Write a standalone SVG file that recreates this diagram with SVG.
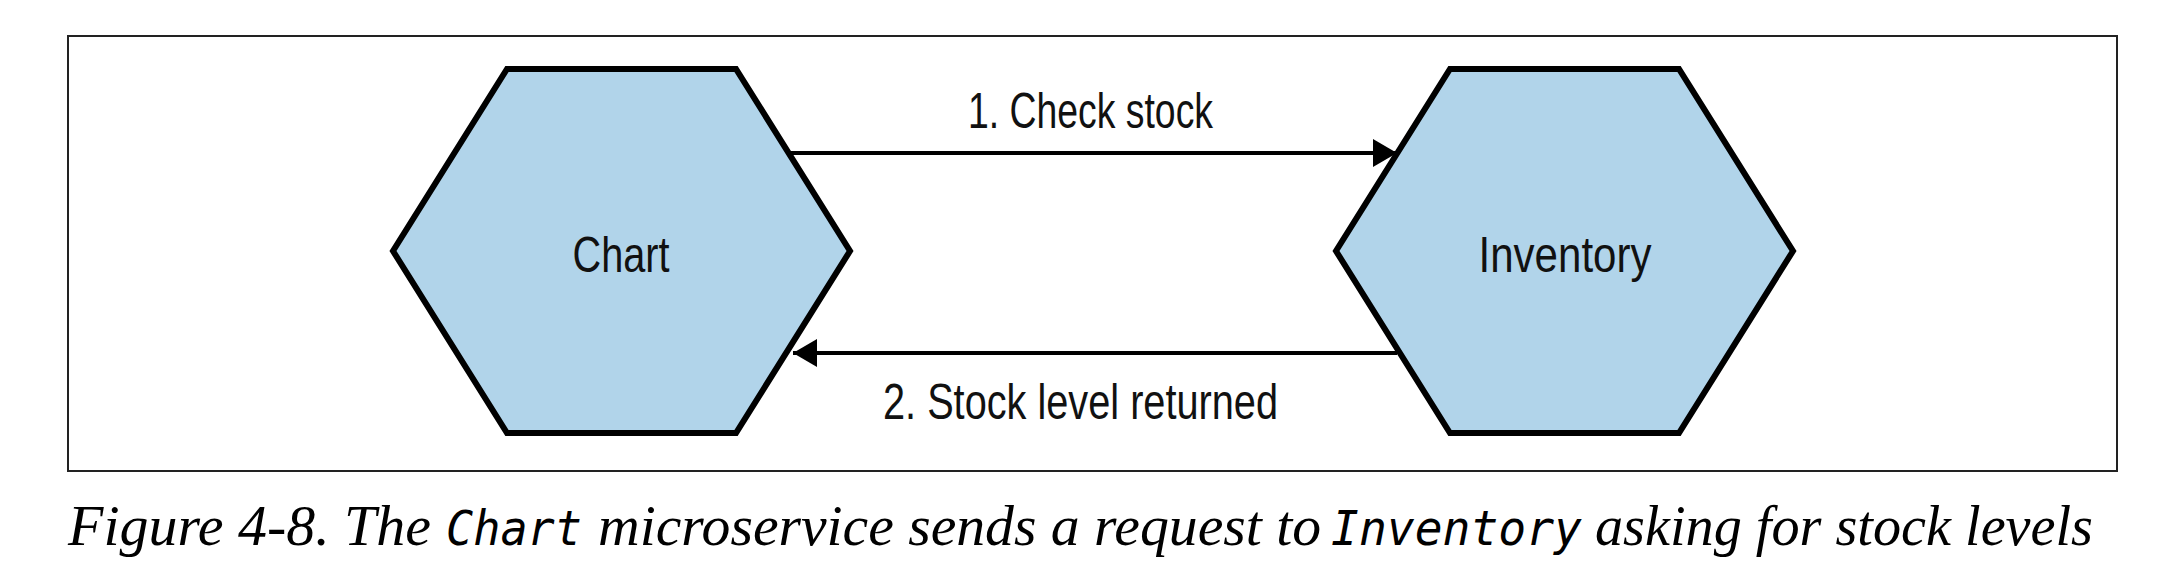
<svg xmlns="http://www.w3.org/2000/svg" width="2180" height="588" viewBox="0 0 2180 588">
  <style>
    .hex { fill: #b1d4ea; stroke: #000; stroke-width: 6; stroke-linejoin: miter; }
    .lbl { font-family: "Liberation Sans", Arial, sans-serif; font-size: 50px; fill: #111; }
    .conn { stroke: #000; stroke-width: 4; fill: none; }
    .cap { font-family: "Liberation Serif", "Times New Roman", serif; font-style: italic; font-size: 56px; fill: #000; }
    .mono { font-family: "DejaVu Sans Mono", "Liberation Mono", monospace; font-style: italic; font-size: 48px; fill: #000; }
  </style>
  <defs>
    <marker id="arrow" markerUnits="userSpaceOnUse" markerWidth="26" markerHeight="30" refX="24" refY="14" orient="auto">
      <path d="M0,0 L24,14 L0,28 z" fill="#000"/>
    </marker>
  </defs>
  <rect x="0" y="0" width="2180" height="588" fill="#fff"/>
  <rect id="frame" x="68" y="36" width="2049" height="435" fill="none" stroke="#222" stroke-width="2"/>

  <g id="chart">
    <polygon class="hex" points="507,69 736,69 850,251 736,433 507,433 393,251"/>
    <text class="lbl" x="621" y="272" text-anchor="middle" textLength="97" lengthAdjust="spacingAndGlyphs">Chart</text>
  </g>

  <g id="inventory">
    <polygon class="hex" points="1450,69 1679,69 1793,251 1679,433 1450,433 1336,251"/>
    <text class="lbl" x="1565" y="272" text-anchor="middle" textLength="173" lengthAdjust="spacingAndGlyphs">Inventory</text>
  </g>

  <g id="connectors">
    <line class="conn" x1="789" y1="153" x2="1397" y2="153" marker-end="url(#arrow)"/>
    <text class="lbl" x="968" y="128" textLength="245" lengthAdjust="spacingAndGlyphs">1. Check stock</text>
    <line class="conn" x1="1397" y1="353" x2="793" y2="353" marker-end="url(#arrow)"/>
    <text class="lbl" x="883" y="419" textLength="395" lengthAdjust="spacingAndGlyphs">2. Stock level returned</text>
  </g>

  <g id="caption">
    <text class="cap" x="68" y="545" textLength="363" lengthAdjust="spacingAndGlyphs">Figure 4-8. The</text>
    <text class="mono" x="446" y="545" textLength="136" lengthAdjust="spacingAndGlyphs">Chart</text>
    <text class="cap" x="598" y="545" textLength="723" lengthAdjust="spacingAndGlyphs">microservice sends a request to</text>
    <text class="mono" x="1331" y="545" textLength="251" lengthAdjust="spacingAndGlyphs">Inventory</text>
    <text class="cap" x="1595" y="545" textLength="498" lengthAdjust="spacingAndGlyphs">asking for stock levels</text>
  </g>
</svg>
